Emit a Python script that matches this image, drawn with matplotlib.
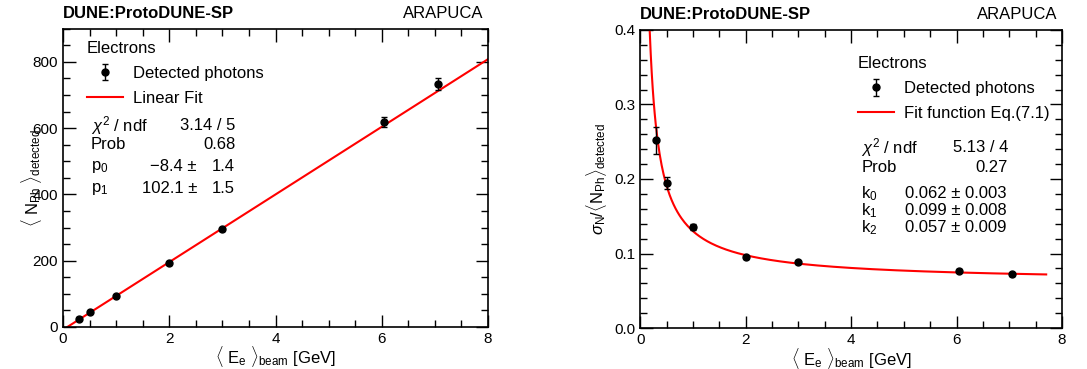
import numpy as np
import matplotlib
matplotlib.use("Agg")
import matplotlib.pyplot as plt
from matplotlib.ticker import MultipleLocator

# ----------------------------------
# DATA
# ----------------------------------

energy = [0.3, 0.5, 1.0, 2.0, 3.0, 6.05, 7.05]

n_photons = [25, 45, 93, 192, 295, 618, 733]
n_photons_err = [4, 4, 4, 4, 4, 15, 18]

resolution = [0.252, 0.195, 0.135, 0.095, 0.088, 0.077, 0.072]
resolution_err = [0.018, 0.008, 0.004, 0.002, 0.002, 0.002, 0.002]

# linear fit parameters
p0, p0_err = -8.4, 1.4
p1, p1_err = 102.1, 1.5
lin_chi2, lin_ndf, lin_prob = 3.14, 5, 0.68

# resolution fit parameters (Eq. 7.1)
k_vals = [0.062, 0.099, 0.057]
k_errs = [0.003, 0.008, 0.009]
res_chi2, res_ndf, res_prob = 5.13, 4, 0.27

# ----------------------------------
# STYLE
# ----------------------------------

plt.rcParams["font.family"] = ["Liberation Sans", "DejaVu Sans"]
plt.rcParams["mathtext.fontset"] = "custom"
plt.rcParams["mathtext.rm"] = "Liberation Sans"
plt.rcParams["mathtext.it"] = "Liberation Sans:italic"
plt.rcParams["mathtext.bf"] = "Liberation Sans:bold"

FS = 12
TICK_FS = 11


def root_axes(ax, xmajor, xminor, ymajor, yminor):
    ax.xaxis.set_major_locator(MultipleLocator(xmajor))
    ax.xaxis.set_minor_locator(MultipleLocator(xminor))
    ax.yaxis.set_major_locator(MultipleLocator(ymajor))
    ax.yaxis.set_minor_locator(MultipleLocator(yminor))
    ax.tick_params(which="both", direction="in", top=True, right=True,
                   labelsize=TICK_FS, width=1.0)
    ax.tick_params(which="major", length=9)
    ax.tick_params(which="minor", length=5)
    for s in ax.spines.values():
        s.set_linewidth(1.2)


def headers(ax):
    ax.text(0.0, 1.025, "DUNE:ProtoDUNE-SP", transform=ax.transAxes,
            fontsize=FS, fontweight="bold", ha="left", va="bottom")
    ax.text(0.99, 1.025, "ARAPUCA", transform=ax.transAxes,
            fontsize=FS, ha="right", va="bottom")


fig = plt.figure(figsize=(10.87, 3.69), dpi=100)
ax1 = fig.add_axes([0.058, 0.114, 0.391, 0.808])
ax2 = fig.add_axes([0.589, 0.111, 0.388, 0.808])

# ----------------------------------
# LEFT: mean number of photons
# ----------------------------------

x_lin = np.linspace(-p0 / p1, 8, 200)
ax1.plot(x_lin, p0 + p1 * x_lin, color="red", lw=1.5, label="Linear Fit")
ax1.errorbar(energy, n_photons, yerr=n_photons_err, fmt="o",
             color="black", ms=5, capsize=2.5, elinewidth=1,
             label="Detected photons", zorder=3)

ax1.set_xlim(0, 8)
ax1.set_ylim(0, 900)
root_axes(ax1, 2, 0.5, 200, 50)
headers(ax1)
ax1.set_xlabel(r"$\langle\ \mathrm{E}_{\mathrm{e}}\ \rangle_{\mathrm{beam}}$ [GeV]",
               fontsize=FS, labelpad=-1)
ax1.set_ylabel(r"$\langle\ \mathrm{N}_{\mathrm{Ph}}\ \rangle_{\mathrm{detected}}$",
               fontsize=FS, labelpad=-8)

h, l = ax1.get_legend_handles_labels()
ax1.legend([h[1], h[0]], [l[1], l[0]], title="Electrons",
           loc="upper left", bbox_to_anchor=(0.02, 1.01),
           frameon=False, fontsize=FS, title_fontsize=FS,
           alignment="left", handlelength=2.2, handletextpad=0.6,
           labelspacing=0.6)

lx, rx = 0.066, 0.405
ax1.text(lx, 0.674, r"$\chi^2$ / ndf", transform=ax1.transAxes, fontsize=FS, va="center")
ax1.text(rx, 0.674, f"{lin_chi2:.2f} / {lin_ndf}", transform=ax1.transAxes,
         fontsize=FS, va="center", ha="right")
ax1.text(lx, 0.611, "Prob", transform=ax1.transAxes, fontsize=FS, va="center")
ax1.text(rx, 0.611, f"{lin_prob:.2f}", transform=ax1.transAxes,
         fontsize=FS, va="center", ha="right")
for i, (val, err, yy) in enumerate([(p0, p0_err, 0.537), (p1, p1_err, 0.463)]):
    ax1.text(lx, yy, rf"p$_{i}$", transform=ax1.transAxes, fontsize=FS, va="center")
    ax1.text(0.315, yy, f"{val:.1f} \u00b1".replace("-", "\u2212"),
             transform=ax1.transAxes, fontsize=FS, va="center", ha="right")
    ax1.text(rx, yy, f"{err:.1f}", transform=ax1.transAxes,
             fontsize=FS, va="center", ha="right")

# ----------------------------------
# RIGHT: energy resolution
# ----------------------------------

x_res = np.linspace(0.18, 7.7, 400)
y_res = np.sqrt(k_vals[0] ** 2 + k_vals[1] ** 2 / x_res + k_vals[2] ** 2 / x_res ** 2)
ax2.plot(x_res, y_res, color="red", lw=1.5, label="Fit function Eq.(7.1)")
ax2.errorbar(energy, resolution, yerr=resolution_err, fmt="o",
             color="black", ms=5, capsize=2.5, elinewidth=1,
             label="Detected photons", zorder=3)

ax2.set_xlim(0, 8)
ax2.set_ylim(0, 0.4)
root_axes(ax2, 2, 0.5, 0.1, 0.02)
ax2.yaxis.set_major_formatter(lambda v, pos: f"{v:.1f}")
headers(ax2)
ax2.set_xlabel(r"$\langle\ \mathrm{E}_{\mathrm{e}}\ \rangle_{\mathrm{beam}}$ [GeV]",
               fontsize=FS, labelpad=-1)
ax2.set_ylabel(r"$\sigma_{\mathrm{N}}/\langle\mathrm{N}_{\mathrm{Ph}}\rangle_{\mathrm{detected}}$",
               fontsize=FS, labelpad=4)

h, l = ax2.get_legend_handles_labels()
ax2.legend([h[1], h[0]], [l[1], l[0]], title="Electrons",
           loc="upper left", bbox_to_anchor=(0.48, 0.962),
           frameon=False, fontsize=FS, title_fontsize=FS,
           alignment="left", handlelength=2.2, handletextpad=0.6,
           labelspacing=0.6)

lx, rx = 0.524, 0.872
ax2.text(lx, 0.604, r"$\chi^2$ / ndf", transform=ax2.transAxes, fontsize=FS, va="center")
ax2.text(rx, 0.604, f"{res_chi2:.2f} / {res_ndf}", transform=ax2.transAxes,
         fontsize=FS, va="center", ha="right")
ax2.text(lx, 0.537, "Prob", transform=ax2.transAxes, fontsize=FS, va="center")
ax2.text(rx, 0.537, f"{res_prob:.2f}", transform=ax2.transAxes,
         fontsize=FS, va="center", ha="right")
for i, yy in enumerate([0.45, 0.393, 0.336]):
    ax2.text(lx, yy, rf"k$_{i}$", transform=ax2.transAxes, fontsize=FS, va="center")
    ax2.text(0.628, yy, f"{k_vals[i]:.3f} \u00b1 {k_errs[i]:.3f}",
             transform=ax2.transAxes, fontsize=FS, va="center", ha="left")

fig.savefig("out.png", dpi=100)
